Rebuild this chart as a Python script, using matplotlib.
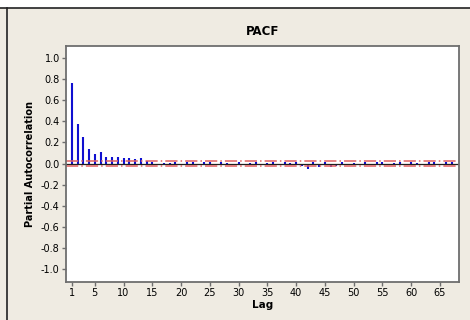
import numpy as np
import matplotlib
matplotlib.use('Agg')
import matplotlib.pyplot as plt
from matplotlib.lines import Line2D
from matplotlib.patches import Rectangle

lags = list(range(1, 68))
pacf = [0.765, 0.375, 0.25, 0.14, 0.095, 0.105, 0.06, 0.06, 0.06, 0.05,
        0.05, 0.04, 0.055, 0.025, 0.01, -0.005, 0.008, 0.005, 0.01, -0.01,
        0.012, 0.01, -0.012, 0.015, 0.01, -0.008, 0.012, 0.005, -0.01, 0.01,
        -0.012, 0.008, 0.01, -0.005, 0.008, 0.012, -0.01, 0.01, 0.005, 0.015,
        -0.02, -0.05, 0.01, -0.03, 0.01, -0.035, -0.025, 0.01, -0.01, 0.005,
        -0.015, 0.01, -0.008, 0.01, 0.012, -0.01, 0.008, 0.012, -0.005, 0.01,
        0.008, -0.01, 0.01, 0.012, -0.008, 0.01, 0.01]
limit = 0.025
xticks = [1, 5, 10, 15, 20, 25, 30, 35, 40, 45, 50, 55, 60, 65]
yticks = [-1.0, -0.8, -0.6, -0.4, -0.2, 0.0, 0.2, 0.4, 0.6, 0.8, 1.0]

plt.rcParams['font.family'] = ['DejaVu Sans']

fig = plt.figure(figsize=(4.7, 3.2), dpi=100)
fig.patch.set_facecolor('#efebe2')

# white strip on top and frame lines of the window
fig.add_artist(Rectangle((0, 1 - 8 / 320), 1, 8 / 320, transform=fig.transFigure,
                         facecolor='white', edgecolor='none'))
fig.add_artist(Line2D([0, 1], [1 - 8 / 320, 1 - 8 / 320], transform=fig.transFigure,
                      color='#222222', lw=1.2))
fig.add_artist(Line2D([7 / 470, 7 / 470], [0, 1 - 8 / 320], transform=fig.transFigure,
                      color='#222222', lw=1.2))

ax = fig.add_axes([66 / 470, 38 / 320, 393 / 470, 236 / 320])
ax.set_facecolor('white')

ax.vlines(lags, 0, pacf, color='#1010d0', lw=1.5)
ax.axhline(0, color='#202020', lw=0.9)
ax.axhline(limit, color='#e06060', lw=1.1, ls=(0, (8, 2, 1, 2)))
ax.axhline(-limit, color='#e06060', lw=1.1, ls=(0, (8, 2, 1, 2)))

ax.set_xlim(0, 68.3)
ax.set_ylim(-1.123, 1.114)
ax.set_xticks(xticks)
ax.set_yticks(yticks)
ax.set_yticklabels([f'{v:.1f}' for v in yticks])

for s in ax.spines.values():
    s.set_color('#6e6e6e')
    s.set_linewidth(1.3)
ax.tick_params(direction='out', length=3, width=1, color='#6e6e6e',
               labelsize=7, pad=1.5)

ax.set_title('PACF', fontsize=8.5, fontweight='bold', pad=8)
ax.set_xlabel('Lag', fontsize=7.5, fontweight='bold', labelpad=1)
ax.set_ylabel('Partial Autocorrelation', fontsize=7, fontweight='bold', labelpad=4)

fig.savefig('out.png', dpi=100, facecolor=fig.get_facecolor())
